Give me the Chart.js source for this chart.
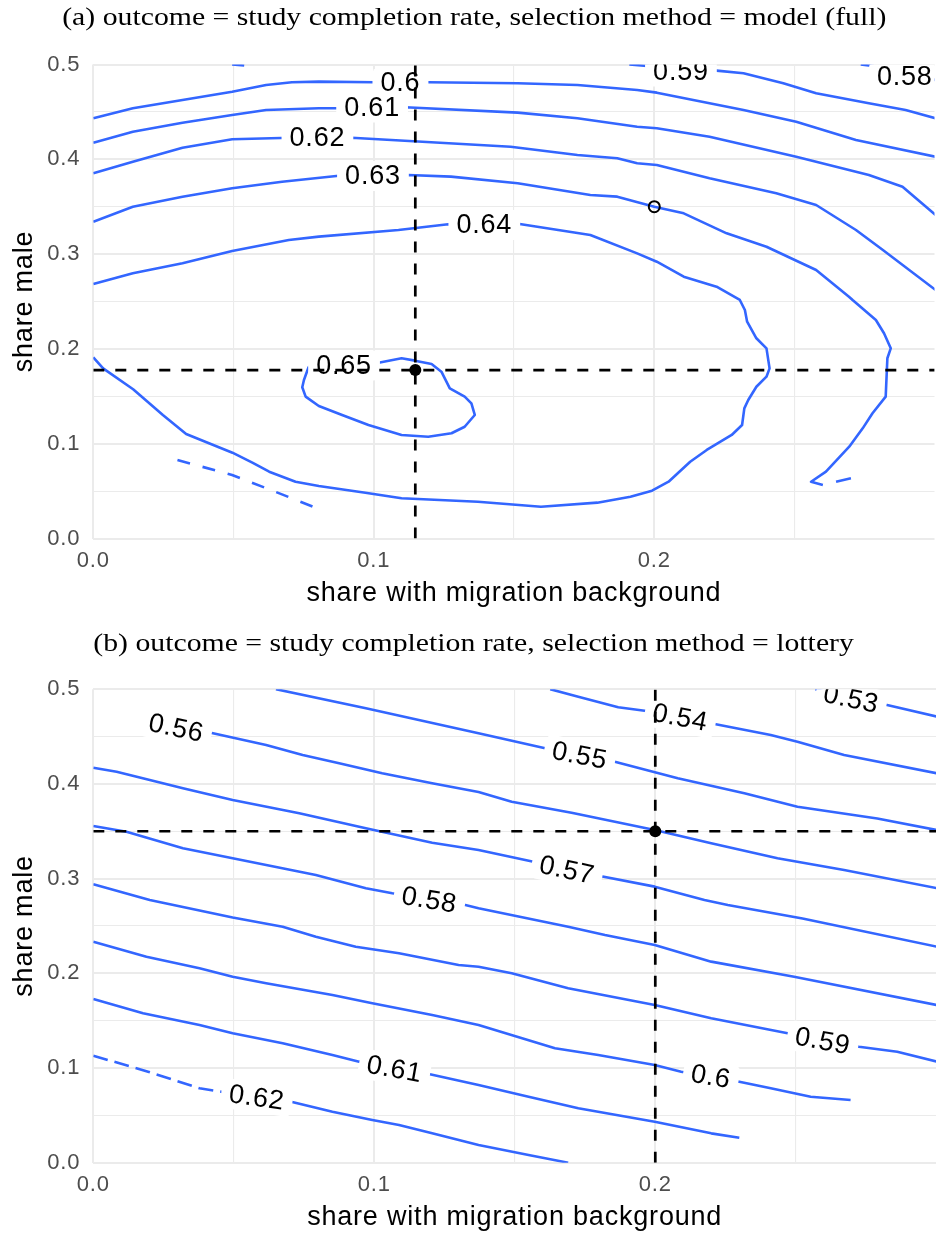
<!DOCTYPE html>
<html>
<head>
<meta charset="utf-8">
<title>Study completion contours</title>
<script src="https://cdn.jsdelivr.net/npm/chart.js"></script>
<style>
  body { margin: 0; background: #fff; }
  #page { position: relative; width: 942px; height: 1236px; overflow: hidden; }
  .box { position: absolute; left: 0; width: 942px; }
  .ttl { position: absolute; left: 3px; width: 942px; text-align: center; font-family: 'Liberation Serif', serif;
         font-size: 25px; line-height: 28px; color: #000; white-space: nowrap; }
  .ttl span { display: inline-block; transform: scaleX(1.19); transform-origin: center; }
</style>
</head>
<body>
<div id="page">
  <div class="box" style="top:0;height:620px"><canvas id="chartA"></canvas></div>
  <div class="box" style="top:620px;height:616px"><canvas id="chartB"></canvas></div>
  <div class="ttl" style="top:3px"><span id="titleA"></span></div>
  <div class="ttl" style="top:629px"><span id="titleB"></span></div>
</div>
<script>
// ---- text ----
const titleA = '(a) outcome = study completion rate, selection method = model (full)';
const titleB = '(b) outcome = study completion rate, selection method = lottery';
const xTitle = 'share with migration background';
const yTitle = 'share male';
const xTicks = [0, 0.1, 0.2];
const yTicks = [0, 0.1, 0.2, 0.3, 0.4, 0.5];

// ---- panel (a): contour lines [x, y] ----
const a058 = [[0.2736,0.5],[0.2779,0.4984],[0.3003,0.4837]];
const a059left = [[0.0495,0.5],[0.0538,0.4989]];
const a059 = [[0.1911,0.5],[0.1974,0.4984],[0.2095,0.4960],[0.2222,0.4935],[0.2318,0.4907],[0.2460,0.4802],
  [0.2577,0.4696],[0.2765,0.4591],[0.2896,0.4520],[0.3003,0.4433]];
const a060 = [[0,0.4433],[0.0141,0.4538],[0.0318,0.4626],[0.0495,0.4713],[0.0616,0.4784],[0.0708,0.4812],
  [0.0804,0.4819],[0.0999,0.4812],[0.1194,0.4812],[0.1513,0.4802],[0.1726,0.4784],[0.1939,0.4731],[0.2009,0.4703],
  [0.2318,0.4520],[0.2506,0.4397],[0.2719,0.4203],[0.3003,0.4027]];
const a061 = [[0,0.4175],[0.0141,0.4291],[0.0318,0.4386],[0.0495,0.4467],[0.0616,0.4520],[0.0804,0.4538],
  [0.0875,0.4538],[0.1112,0.4549],[0.1513,0.4492],[0.1726,0.4433],[0.1939,0.4344],[0.2009,0.4327],[0.2197,0.4238],
  [0.2506,0.4027],[0.2765,0.3834],[0.2885,0.3711],[0.3003,0.3412]];
const a062 = [[0,0.3852],[0.0141,0.3975],[0.0318,0.4122],[0.0495,0.4211],[0.0669,0.4225],[0.0921,0.4228],
  [0.1488,0.4133],[0.1726,0.4045],[0.1868,0.4011],[0.1939,0.3958],[0.2009,0.3940],[0.2197,0.3800],[0.2435,0.3641],
  [0.2577,0.3518],[0.2719,0.3254],[0.2815,0.3043],[0.3003,0.2621]];
const a063 = [[0,0.3342],[0.0141,0.3500],[0.0318,0.3605],[0.0495,0.3694],[0.0673,0.3764],[0.0875,0.3827],
  [0.1123,0.3834],[0.1275,0.3817],[0.1513,0.3747],[0.1772,0.3623],[0.1868,0.3606],[0.2,0.35],[0.2105,0.3430],
  [0.2258,0.3219],[0.2400,0.3078],[0.2577,0.2832],[0.2694,0.2551],[0.2707,0.2516],[0.2790,0.2305],[0.2819,0.2165],
  [0.2843,0.2006],[0.2831,0.1901],[0.2825,0.1496],[0.2778,0.1321],[0.2743,0.1162],[0.2695,0.0968],[0.2612,0.0705],
  [0.2559,0.0599],[0.2601,0.0564]];
const a063tail = [[0.2648,0.0599],[0.2701,0.0635]];
const a064 = [[0,0.2685],[0.0141,0.2797],[0.0318,0.2903],[0.0495,0.3033],[0.0697,0.3149],[0.0804,0.3184],
  [0.1088,0.3254],[0.1265,0.3314],[0.1520,0.3318],[0.1772,0.3202],[0.1939,0.3008],[0.2009,0.2920],[0.2105,0.2762],
  [0.2222,0.2656],[0.2305,0.2516],[0.2323,0.2410],[0.2331,0.2287],[0.2364,0.2112],[0.2400,0.2006],[0.2411,0.1795],
  [0.2400,0.1707],[0.2364,0.1601],[0.2335,0.1461],[0.2321,0.1373],[0.2313,0.1197],[0.2276,0.1092],[0.2187,0.0934],
  [0.2128,0.0810],[0.2051,0.0599],[0.1992,0.0504],[0.1915,0.0441],[0.1797,0.0378],[0.1596,0.0335],[0.1371,0.0388],
  [0.1099,0.0424],[0.0970,0.0483],[0.0804,0.0554],[0.0721,0.0599],[0.0627,0.0705],[0.0567,0.0800],[0.0496,0.0905],
  [0.0331,0.1102],[0.0248,0.1303],[0.0142,0.1574],[0.0035,0.1795],[0,0.1911]];
const a065 = [[0.0768,0.1812],[0.0751,0.1672],[0.0745,0.1595],[0.0757,0.1496],[0.0804,0.1398],[0.0887,0.1303],
  [0.0981,0.1197],[0.1099,0.1092],[0.1194,0.1074],[0.1277,0.1110],[0.1324,0.1179],[0.1360,0.1303],[0.1348,0.1426],
  [0.1324,0.1496],[0.1271,0.1584],[0.1241,0.1760],[0.1206,0.1841],[0.1147,0.1876],[0.1099,0.1901],[0.1017,0.1854],
  [0.0893,0.1862],[0.0768,0.1812]];
const a066dash = [[0.0300,0.0828],[0.0495,0.0670],[0.0651,0.0491],[0.0822,0.0290]];
const labelsA = [
  { text: '0.6', x: 0.1095, y: 0.4810, angle: 0 },
  { text: '0.61', x: 0.0994, y: 0.4546, angle: 0 },
  { text: '0.62', x: 0.0799, y: 0.4230, angle: 0 },
  { text: '0.63', x: 0.0997, y: 0.3824, angle: 0 },
  { text: '0.64', x: 0.1394, y: 0.3307, angle: 0 },
  { text: '0.65', x: 0.0894, y: 0.1825, angle: 0 },
  { text: '0.59', x: 0.2095, y: 0.4926, angle: 0 },
  { text: '0.58', x: 0.2893, y: 0.4868, angle: 0 }
];
const refA = { x: 0.1148, y: 0.1777 };   // selected point, model
const openA = { x: 0.2, y: 0.35 };       // lottery point shown for comparison

// ---- panel (b): contour lines [x, y] ----
const b053 = [[0.2570,0.5],[0.2697,0.4897],[0.2825,0.4833],[0.3003,0.4710]];
const b054 = [[0.1626,0.5],[0.1726,0.4921],[0.1868,0.4809],[0.1962,0.4773],[0.2211,0.4633],[0.2411,0.4516],
  [0.2506,0.4446],[0.2672,0.4305],[0.3003,0.4112]];
const b055 = [[0.0650,0.5],[0.0970,0.4798],[0.1371,0.4534],[0.1608,0.4376],[0.1856,0.4234],[0.2080,0.4059],
  [0.2317,0.3901],[0.2506,0.3759],[0.2790,0.3635],[0.3003,0.3513]];
const b056 = [[0.0254,0.4654],[0.0426,0.4534],[0.0615,0.4411],[0.0745,0.4305],[0.0875,0.4218],[0.1028,0.4112],
  [0.1206,0.4006],[0.1371,0.3914],[0.1489,0.3812],[0.1702,0.3696],[0.1998,0.3513],[0.2199,0.3373],[0.2435,0.3214],
  [0.2672,0.3091],[0.3003,0.2898]];
const b057 = [[0,0.4171],[0.0083,0.4129],[0.0319,0.3954],[0.0496,0.3830],[0.0733,0.3690],[0.0970,0.3531],
  [0.1206,0.3379],[0.1371,0.3302],[0.1803,0.3027],[0.1998,0.2915],[0.2175,0.2774],[0.2258,0.2721],[0.2524,0.2579],
  [0.3003,0.2281]];
const b058 = [[0,0.3556],[0.0118,0.3495],[0.0319,0.3320],[0.0496,0.3214],[0.0792,0.3038],[0.0970,0.2898],
  [0.1064,0.2845],[0.1324,0.2721],[0.1371,0.2686],[0.1690,0.2492],[0.1821,0.2404],[0.1998,0.2299],[0.2199,0.2123],
  [0.2494,0.1964],[0.3003,0.1665]];
const b059 = [[0,0.2940],[0.0201,0.2774],[0.0496,0.2589],[0.0674,0.2492],[0.0792,0.2386],[0.0934,0.2281],
  [0.1088,0.2211],[0.1300,0.2088],[0.1371,0.2070],[0.1489,0.2000],[0.1690,0.1842],[0.1998,0.1665],[0.2199,0.1525],
  [0.2471,0.1366],[0.2725,0.1225],[0.2861,0.1172],[0.3003,0.1067]];
const b060 = [[0,0.2334],[0.0189,0.2175],[0.0378,0.2053],[0.0496,0.1964],[0.0615,0.1894],[0.0851,0.1771],
  [0.0993,0.1683],[0.1206,0.1560],[0.1371,0.1454],[0.1643,0.1208],[0.1797,0.1137],[0.1998,0.1032],[0.2092,0.0961],
  [0.2299,0.0855],[0.2411,0.0786],[0.2553,0.0697],[0.2695,0.0662]];
const b061 = [[0,0.1729],[0.0177,0.1578],[0.0378,0.1454],[0.0496,0.1366],[0.0674,0.1261],[0.0851,0.1137],
  [0.0946,0.1067],[0.1182,0.0944],[0.1371,0.0821],[0.1549,0.0697],[0.1726,0.0574],[0.1998,0.0433],[0.2199,0.0310],
  [0.2299,0.0264]];
const b062dash = [[0,0.1130],[0.0195,0.0961],[0.0378,0.0786],[0.0455,0.0750]];
const b062 = [[0.0455,0.0750],[0.0704,0.0644],[0.0851,0.0539],[0.0993,0.0451],[0.1088,0.0398],[0.1206,0.0310],
  [0.1371,0.0187],[0.1549,0.0081],[0.1690,0]];
const labelsB = [
  { text: '0.53', x: 0.2697, y: 0.4897, angle: 12 },
  { text: '0.54', x: 0.2089, y: 0.4701, angle: 11 },
  { text: '0.55', x: 0.1731, y: 0.4300, angle: 11 },
  { text: '0.56', x: 0.0295, y: 0.4590, angle: 12 },
  { text: '0.57', x: 0.1686, y: 0.3091, angle: 12 },
  { text: '0.58', x: 0.1196, y: 0.2774, angle: 9.5 },
  { text: '0.59', x: 0.2596, y: 0.1285, angle: 10.5 },
  { text: '0.6', x: 0.2198, y: 0.0910, angle: 10 },
  { text: '0.61', x: 0.1072, y: 0.0989, angle: 10 },
  { text: '0.62', x: 0.0582, y: 0.0688, angle: 8 }
];
const refB = { x: 0.2, y: 0.35 };

// ---- drawing ----
const SANS = '"Liberation Sans", Arial, sans-serif';
const BLUE = '#3366FF';
document.getElementById('titleA').textContent = titleA;
document.getElementById('titleB').textContent = titleB;

function contour(pts, dash) {
  return {
    data: pts.map(p => ({ x: p[0], y: p[1] })),
    showLine: true, borderColor: BLUE, borderWidth: 2.6, borderDash: dash || [],
    borderJoinStyle: 'round', pointRadius: 0, fill: false, order: 3
  };
}
function refLine(x0, y0, x1, y1) {
  return {
    data: [{ x: x0, y: y0 }, { x: x1, y: y1 }], isRef: true,
    showLine: true, borderColor: '#000', borderWidth: 2.7, borderDash: [11, 11],
    pointRadius: 0, fill: false, order: 2
  };
}
function marker(pt, filled) {
  return {
    data: [pt], isRef: true, showLine: false, order: 1,
    pointRadius: filled ? 6 : 5.5,
    pointBackgroundColor: filled ? '#000' : 'rgba(0,0,0,0)',
    pointBorderColor: '#000', pointBorderWidth: filled ? 0 : 2
  };
}
const near = (list, v) => list.some(t => Math.abs(t - v) < 1e-6);

// contour labels go above the blue lines but under the dashed reference lines
const contourLabels = {
  id: 'contourLabels',
  beforeDatasetsDraw(chart) { chart.$labelsDone = false; },
  beforeDatasetDraw(chart, args) {
    if (chart.$labelsDone || !chart.data.datasets[args.index].isRef) return;
    chart.$labelsDone = true;
    const items = chart.canvas.id === 'chartA' ? labelsA : labelsB;
    const { ctx, chartArea: a, scales: { x, y } } = chart;
    ctx.save();
    ctx.beginPath();
    ctx.rect(a.left, a.top, a.right - a.left, a.bottom - a.top);
    ctx.clip();
    ctx.font = '27px ' + SANS;
    ctx.textAlign = 'center';
    ctx.textBaseline = 'middle';
    items.forEach(l => {
      const w = ctx.measureText(l.text).width + 16, h = 30;
      ctx.save();
      ctx.translate(x.getPixelForValue(l.x), y.getPixelForValue(l.y));
      ctx.rotate(l.angle * Math.PI / 180);
      ctx.fillStyle = '#fff';
      ctx.beginPath();
      ctx.roundRect(-w / 2, -h / 2, w, h, 6);
      ctx.fill();
      ctx.fillStyle = '#000';
      ctx.fillText(l.text, 0, 1);
      ctx.restore();
    });
    ctx.restore();
  }
};
const spacing = {
  id: 'spacing',
  beforeDraw(chart) { chart.ctx.letterSpacing = '0.8px'; }
};

function makeChart(id, datasets, lay) {
  return new Chart(document.getElementById(id), {
    type: 'scatter',
    data: { datasets },
    plugins: [spacing, contourLabels],
    options: {
      responsive: true, maintainAspectRatio: false, animation: false, devicePixelRatio: 1,
      events: [],
      layout: { padding: { top: lay.top, right: 2, left: 0, bottom: 0 } },
      plugins: { legend: { display: false }, tooltip: { enabled: false }, title: { display: false } },
      scales: {
        x: {
          type: 'linear', min: 0, max: 0.2999,
          afterFit: s => { s.height = lay.xh; },
          border: { display: false },
          grid: { color: '#EBEBEB', drawTicks: false,
                  lineWidth: c => (c.tick && near(xTicks, c.tick.value)) ? 2 : 1.1 },
          ticks: { stepSize: 0.05, autoSkip: false, includeBounds: false, maxRotation: 0,
                   color: '#4D4D4D', font: { size: 22, family: SANS }, padding: 9,
                   callback: v => near(xTicks, v) ? v.toFixed(1) : '' },
          title: { display: true, text: xTitle, color: '#000', font: { size: 27, family: SANS },
                   padding: { top: 0, bottom: lay.xtp } }
        },
        y: {
          type: 'linear', min: 0, max: 0.5,
          afterFit: s => { s.width = 93.3; },
          border: { display: false },
          grid: { color: '#EBEBEB', drawTicks: false,
                  lineWidth: c => (c.tick && near(yTicks, c.tick.value)) ? 2 : 1.1 },
          ticks: { stepSize: 0.05, autoSkip: false, color: '#4D4D4D', font: { size: 22, family: SANS }, padding: 13,
                   callback: v => near(yTicks, v) ? v.toFixed(1) : '' },
          title: { display: true, text: yTitle, color: '#000', font: { size: 27, family: SANS },
                   padding: { top: 8, bottom: 0 } }
        }
      }
    }
  });
}

makeChart('chartA', [
  contour(a058), contour(a059left), contour(a059), contour(a060), contour(a061), contour(a062),
  contour(a063), contour(a063tail), contour(a064), contour(a065), contour(a066dash, [13, 13]),
  refLine(refA.x, 0, refA.x, 0.5), refLine(0, refA.y, 0.3, refA.y),
  marker(refA, true), marker(openA, false)
], { top: 64.5, xh: 81.5, xtp: 10 });

makeChart('chartB', [
  contour(b053), contour(b054), contour(b055), contour(b056), contour(b057), contour(b058),
  contour(b059), contour(b060), contour(b061), contour(b062dash, [15, 7]), contour(b062),
  refLine(refB.x, 0, refB.x, 0.5), refLine(0, refB.y, 0.3, refB.y),
  marker(refB, true)
], { top: 69.2, xh: 73.3, xtp: 2 });
</script>
</body>
</html>
